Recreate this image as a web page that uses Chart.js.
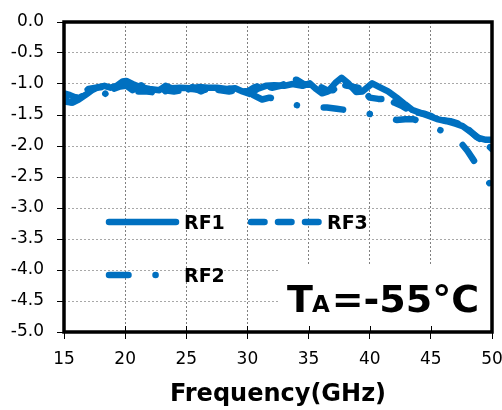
<!DOCTYPE html>
<html>
<head>
<meta charset="utf-8">
<script src="https://cdn.jsdelivr.net/npm/chart.js@4.4.0/dist/chart.umd.min.js"></script>
<style>
    html, body { margin: 0; padding: 0; background: #fff; }
</style>
</head>
<body>
<canvas id="grafico" width="502" height="410"></canvas>
<script>
// Pérdida de inserción medida en cada puerto (frecuencia en GHz, pérdida en dB)
var frecRF1 = [15, 15.3, 15.7, 16.2, 16.8, 17.3, 17.8, 18.3, 18.8, 19.3, 19.8, 20.1, 20.6, 21.2, 22, 22.8, 23.3, 23.8, 24.5, 25.3,
    26, 26.8, 27.5, 28.3, 29, 29.6, 30.2, 30.8, 31.5, 32.2, 33, 33.7, 34.5, 35.1, 35.6, 36.1, 36.6, 37.2, 37.7, 38.2,
    38.9, 39.4, 40.2, 40.8, 41.5, 42.2, 42.9, 43.5, 44.2, 44.9, 45.6, 46.3, 47, 47.6, 48.3, 48.9, 49.5, 50];
var perdidaRF1 = [-1.22, -1.28, -1.3, -1.25, -1.17, -1.1, -1.05, -1.03, -1.06, -1.03, -0.96, -0.95, -1.0, -1.05, -1.08, -1.1, -1.03, -1.07, -1.06, -1.07,
    -1.05, -1.06, -1.06, -1.08, -1.07, -1.12, -1.16, -1.08, -1.03, -1.02, -1.03, -1.0, -1.03, -0.99, -1.08, -1.15, -1.12, -0.98, -0.9, -0.98,
    -1.13, -1.12, -0.99, -1.05, -1.12, -1.22, -1.33, -1.42, -1.47, -1.52, -1.57, -1.6, -1.64, -1.68, -1.78, -1.87, -1.9, -1.9];

var frecRF2 = [15, 15.6, 16.3, 17, 17.6, 18.2, 18.6, 19.2, 19.9, 20.6, 21.3, 22, 22.7, 23.4, 24.1, 24.8, 25.5, 26.2, 26.9, 27.6,
    28.3, 29, 29.7, 30.4, 31.2, 31.8, 32.4, 33, 33.7, 34.3, 35, 35.8, 36.5, 37.3, 38.1, 38.8, 39.5, 40.2, 40.8, 41.5,
    42.2, 42.9, 43.6, 44.4, 45, 45.6, 46.4, 47, 47.5, 48, 48.4, 49, 49.6, 49.9];
var perdidaRF2 = [-1.28, -1.3, -1.22, -1.12, -1.08, -1.12, -1.2, -1.08, -1.0, -1.1, -1.02, -1.12, -1.04, -1.13, -1.05, -1.13, -1.05, -1.12, -1.04, -1.12,
    -1.05, -1.14, -1.08, -1.17, -1.25, -1.22, -1.25, -1.28, -1.33, -1.35, -1.38, -1.38, -1.38, -1.4, -1.42, -1.44, -1.47, -1.49, -1.5, -1.54,
    -1.58, -1.57, -1.57, -1.62, -1.68, -1.73, -1.8, -1.9, -1.96, -2.08, -2.2, -2.38, -2.55, -2.63];

var frecRF3 = [15, 15.5, 16, 16.5, 17, 17.6, 18.2, 19, 19.6, 20.4, 21, 21.8, 22.5, 23.2, 24, 24.8, 25.5, 26.3, 27, 27.8,
    28.5, 29.2, 30, 30.6, 31.3, 32, 32.7, 33.4, 34, 34.6, 35.3, 36, 36.5, 37, 37.6, 38.2, 38.8, 39.4, 40, 40.7,
    41.4, 42, 42.6, 43.2, 43.8, 44.5, 45.2, 45.9, 46.6, 47.3, 48, 48.7, 49.3, 50];
var perdidaRF3 = [-1.15, -1.18, -1.22, -1.15, -1.08, -1.06, -1.05, -1.08, -1.04, -1.02, -1.12, -1.12, -1.14, -1.1, -1.12, -1.1, -1.08, -1.1, -1.08, -1.1,
    -1.12, -1.1, -1.12, -1.05, -1.02, -1.06, -1.03, -0.96, -0.93, -1.0, -1.02, -1.05, -1.1, -1.1, -1.0, -1.03, -1.05, -1.08, -1.22, -1.24,
    -1.24, -1.3, -1.35, -1.42, -1.46, -1.48, -1.53, -1.58, -1.6, -1.64, -1.72, -1.85, -1.92, -2.05];

// Marcas de los ejes
var marcasX = [15, 20, 25, 30, 35, 40, 45, 50];
var marcasY = [0, -0.5, -1, -1.5, -2, -2.5, -3, -3.5, -4, -4.5, -5];

var azul = '#0070C0';
var fuente = "'DejaVu Sans', Verdana, sans-serif";

function puntos(frec, perdida) {
    var lista = [];
    for (var i = 0; i < frec.length; i++) {
        lista.push({ x: frec[i], y: perdida[i] });
    }
    return lista;
}

function serie(nombre, frec, perdida, trazo) {
    return {
        label: nombre,
        data: puntos(frec, perdida),
        borderColor: azul,
        borderWidth: 6.5,
        borderDash: trazo,
        borderCapStyle: 'round',
        borderJoinStyle: 'round',
        pointRadius: 0,
        tension: 0,
        fill: false
    };
}

// Recuadro blanco con la temperatura, debajo de las curvas
var recuadroTemp = {
    id: 'recuadroTemp',
    beforeDatasetsDraw: function(chart) {
        var ctx = chart.ctx;
        var a = chart.chartArea;
        ctx.save();
        ctx.fillStyle = '#fff';
        ctx.fillRect(a.left + 214, a.top + 243, a.right - a.left - 214, a.bottom - a.top - 243);
        // marcas interiores del eje X
        var escX = chart.scales.x;
        ctx.strokeStyle = '#000';
        ctx.lineWidth = 1;
        marcasX.forEach(function(v) {
            var px = Math.round(escX.getPixelForValue(v)) + 0.5;
            ctx.beginPath();
            ctx.moveTo(px, a.bottom - 6);
            ctx.lineTo(px, a.bottom);
            ctx.stroke();
        });
        ctx.restore();
    }
};

// Marco, leyenda y rótulo de temperatura
var decoracion = {
    id: 'decoracion',
    afterDatasetsDraw: function(chart) {
        var ctx = chart.ctx;
        var a = chart.chartArea;
        ctx.save();

        ctx.strokeStyle = '#000';
        ctx.lineWidth = 3.5;
        ctx.strokeRect(a.left, a.top, a.right - a.left, a.bottom - a.top);

        // leyenda dentro del área de trazado
        var filas = [
            { ds: 0, x: a.left + 45, y: a.top + 200, largo: 67 },
            { ds: 2, x: a.left + 187, y: a.top + 200, largo: 67.5 },
            { ds: 1, x: a.left + 45, y: a.top + 253, largo: 47 }
        ];
        filas.forEach(function(f) {
            var d = chart.data.datasets[f.ds];
            ctx.strokeStyle = d.borderColor;
            ctx.lineWidth = d.borderWidth;
            ctx.lineCap = 'round';
            ctx.setLineDash(d.borderDash);
            ctx.beginPath();
            ctx.moveTo(f.x, f.y);
            ctx.lineTo(f.x + f.largo, f.y);
            ctx.stroke();
            ctx.setLineDash([]);
            ctx.fillStyle = '#000';
            ctx.font = 'bold 19px ' + fuente;
            ctx.textBaseline = 'alphabetic';
            ctx.textAlign = 'left';
            var xTexto = f.ds === 2 ? a.left + 263 : a.left + 120;
            ctx.fillText(d.label, xTexto, f.y + 7);
        });

        // T_A = -55 °C
        var base = a.top + 290;
        var x = a.left + 223;
        ctx.fillStyle = '#000';
        ctx.font = 'bold 38px ' + fuente;
        ctx.fillText('T', x, base);
        x += ctx.measureText('T').width - 1;
        ctx.font = 'bold 23px ' + fuente;
        ctx.fillText('A', x, base);
        x += ctx.measureText('A').width + 2;
        ctx.font = 'bold 38px ' + fuente;
        ctx.fillText('=-55°C', x, base);

        ctx.restore();
    }
};

var ctx = document.getElementById('grafico').getContext('2d');
var grafico = new Chart(ctx, {
    type: 'line',
    data: {
        datasets: [
            serie('RF1', frecRF1, perdidaRF1, []),
            serie('RF2', frecRF2, perdidaRF2, [19.5, 27, 0.1, 27]),
            serie('RF3', frecRF3, perdidaRF3, [13.5, 13.5])
        ]
    },
    options: {
        responsive: false,
        animation: false,
        layout: { padding: { top: 22, right: 10, left: 0, bottom: 0 } },
        plugins: {
            legend: { display: false },
            tooltip: { enabled: false }
        },
        scales: {
            x: {
                type: 'linear',
                min: 15,
                max: 50,
                afterBuildTicks: function(escala) {
                    escala.ticks = marcasX.map(function(v) { return { value: v }; });
                },
                afterFit: function(escala) {
                    escala.height = 78;
                    escala.paddingLeft = 0;
                    escala.paddingRight = 0;
                },
                ticks: {
                    color: '#000',
                    padding: 10,
                    maxRotation: 0,
                    font: { family: fuente, size: 17 }
                },
                grid: {
                    color: '#808080',
                    lineWidth: 1,
                    borderDash: [2, 2],
                    tickColor: '#000',
                    tickLength: 7,
                    tickWidth: 1
                },
                border: { display: false, dash: [2, 2] },
                title: {
                    display: true,
                    text: 'Frequency(GHz)',
                    color: '#000',
                    font: { family: fuente, size: 24, weight: 'bold' },
                    padding: { top: 0, bottom: 1 }
                }
            },
            y: {
                min: -5,
                max: 0,
                afterBuildTicks: function(escala) {
                    escala.ticks = marcasY.map(function(v) { return { value: v }; });
                },
                afterFit: function(escala) {
                    escala.width = 64;
                    escala.paddingTop = 0;
                    escala.paddingBottom = 0;
                },
                ticks: {
                    color: '#000',
                    padding: 13,
                    font: { family: fuente, size: 17 },
                    callback: function(v) { return v.toFixed(1); }
                },
                grid: {
                    color: '#a8a8a8',
                    lineWidth: 1,
                    borderDash: [2, 2],
                    tickColor: '#000',
                    tickLength: 7,
                    tickWidth: 1
                },
                border: { display: false, dash: [2, 2] }
            }
        }
    },
    plugins: [recuadroTemp, decoracion]
});
</script>
</body>
</html>
